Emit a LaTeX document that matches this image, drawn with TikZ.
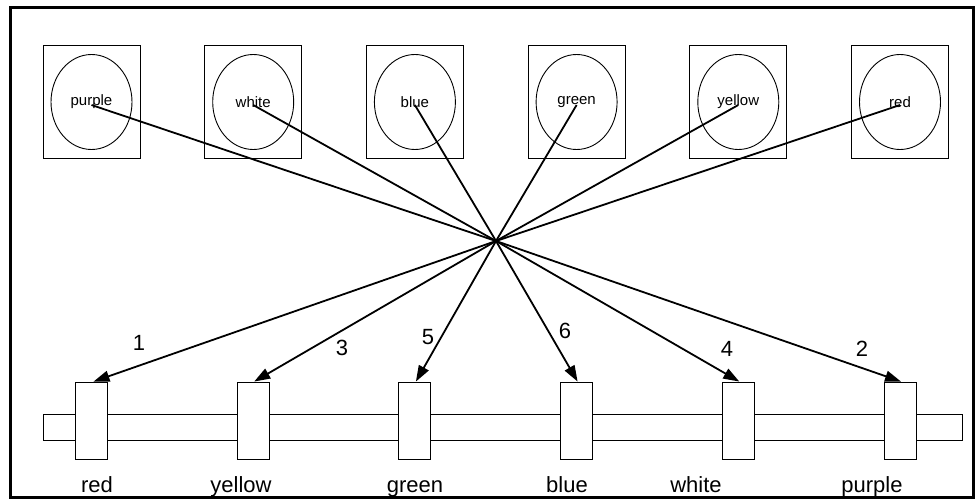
\documentclass[tikz,border=0pt]{standalone}
\usepackage{fontspec}
\setmainfont{Liberation Sans}
\usetikzlibrary{shapes.geometric,arrows.meta}

\begin{document}
\begin{tikzpicture}
[x=1pt,y=-1pt,
card/.style={draw,line width=.9pt,minimum width=97pt,minimum height=113pt},
ball/.style={draw,ellipse,line width=.9pt,minimum width=81pt,minimum height=95pt,inner sep=0pt,font=\fontsize{15}{15}\selectfont},
slot/.style={draw,fill=white,line width=.9pt,minimum width=32pt,minimum height=77pt},
wire/.style={line width=1.8pt},
ordnum/.style={font=\fontsize{22}{22}\selectfont},
colname/.style={anchor=base,font=\fontsize{22}{22}\selectfont}]
\useasboundingbox (0,0) rectangle (976,500);
\draw[line width=3.5pt] (10.5,7.5) rectangle (973.5,497.5);
% colours on top
\foreach \c [count=\i from 0] in {purple,white,blue,green,yellow,red}
{
\node[card] (t\i) at (91.5+161.7*\i,102) {};
\node[ball] (e\i) at (t\i) {\c};
}
% bar with the slots
\node[draw,line width=.9pt,minimum width=919pt,minimum height=26pt] (bar) at (502.5,427) {};
\foreach \i in {0,...,5}
\node[slot] (b\i) at (91.5+161.7*\i,420.5) {};
\coordinate (hub) at (496,241);
\foreach \from/\to in {0/5,1/4,2/3,3/2,4/1}
\draw[wire,-{Triangle[length=16pt,width=11pt]}] ([yshift=-3pt]e\from.center) -- (hub) -- ([xshift=1pt]b\to.north);
\draw[wire,-{Triangle[length=16pt,width=11pt]}] ([yshift=-3pt]e5.center) -- (hub) -- ([xshift=2pt]b0.north);
% order numbers
\node[ordnum] (n1) at (139,343) {1};
\node[ordnum] (n3) at (342,348) {3};
\node[ordnum] (n5) at (428,337) {5};
\node[ordnum] (n6) at (565,331) {6};
\node[ordnum] (n4) at (727,349) {4};
\node[ordnum] (n2) at (862,349) {2};
% names under the bar
\node[colname] (l0) at (97,492) {red};
\node[colname] (l1) at (241,492) {yellow};
\node[colname] (l2) at (415,492) {green};
\node[colname] (l3) at (567,492) {blue};
\node[colname] (l4) at (696,492) {white};
\node[colname] (l5) at (872,492) {purple};
\end{tikzpicture}
\end{document}
